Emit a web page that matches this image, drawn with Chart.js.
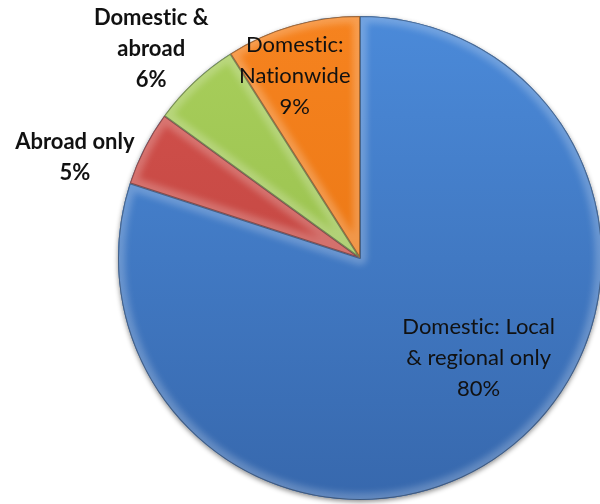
<!DOCTYPE html>
<html>
<head>
<meta charset="utf-8">
<script src="https://cdn.jsdelivr.net/npm/chart.js@4.4.1/dist/chart.umd.min.js"></script>
<style>
  html, body { margin: 0; padding: 0; background: #fff; }
  #wrap { width: 600px; height: 504px; position: relative; }
</style>
</head>
<body>
<div id="wrap"><canvas id="reachChart"></canvas></div>
<script>
// 业务覆盖范围占比
const labels = [
  ['Domestic: Local', '& regional only'],
  ['Abroad only'],
  ['Domestic &', 'abroad'],
  ['Domestic:', 'Nationwide']
];
const shares = [80, 5, 6, 9];

// 每块的渐变色（上浅下深）
const colorTop = ['#4b8ad9', '#d4524d', '#a9cf5c', '#f6831f'];
const colorBottom = ['#3768ad', '#b8403b', '#8fb845', '#e4700e'];

// 标签位置：角度(自顶部顺时针) + 半径比例，是否加粗
const labelAngle = [130, 289.5, 315, 340.3];
const labelRadius = [0.64, 1.25, 1.22, 0.80];
const labelBold = [false, true, true, false];

function sliceGradient(ctx) {
  const chart = ctx.chart;
  const area = chart.chartArea;
  if (!area) return colorTop[ctx.dataIndex];
  const g = chart.ctx.createLinearGradient(0, area.top, 0, area.bottom);
  g.addColorStop(0, colorTop[ctx.dataIndex]);
  g.addColorStop(1, colorBottom[ctx.dataIndex]);
  return g;
}

// 饼图底部阴影
const shadowPlugin = {
  id: 'pieShadow',
  beforeDatasetsDraw(chart) {
    const arc = chart.getDatasetMeta(0).data[0];
    if (!arc) return;
    const c = chart.ctx;
    c.save();
    c.beginPath();
    c.arc(arc.x, arc.y, arc.outerRadius, 0, Math.PI * 2);
    c.shadowColor = 'rgba(0,0,0,0.45)';
    c.shadowBlur = 5;
    c.shadowOffsetY = 2;
    c.fillStyle = '#3a6aad';
    c.fill();
    c.restore();
  }
};

// 斜面高光效果
const bevelPlugin = {
  id: 'bevel',
  afterDatasetsDraw(chart) {
    const c = chart.ctx;
    chart.getDatasetMeta(0).data.forEach(arc => {
      const p = new Path2D();
      p.moveTo(arc.x, arc.y);
      p.arc(arc.x, arc.y, arc.outerRadius, arc.startAngle, arc.endAngle);
      p.closePath();
      c.save();
      c.clip(p);
      c.lineJoin = 'round';
      c.strokeStyle = 'rgba(255,255,255,0.22)';
      c.lineWidth = 14;
      c.filter = 'blur(3px)';
      c.stroke(p);
      c.filter = 'none';
      c.strokeStyle = 'rgba(0,0,0,0.35)';
      c.lineWidth = 2;
      c.stroke(p);
      c.restore();
    });
  }
};

const labelPlugin = {
  id: 'sliceLabels',
  afterDraw(chart) {
    const c = chart.ctx;
    const meta = chart.getDatasetMeta(0);
    const total = shares.reduce((a, b) => a + b, 0);
    meta.data.forEach((arc, i) => {
      const ang = labelAngle[i] * Math.PI / 180;
      const r = arc.outerRadius * labelRadius[i];
      const cx = arc.x + Math.sin(ang) * r;
      const cy = arc.y - Math.cos(ang) * r;
      const lines = labels[i].concat([Math.round(shares[i] / total * 100) + '%']);
      const lh = 31;
      c.save();
      c.font = (labelBold[i] ? 'bold ' : '') + '22px Lato, "Open Sans", sans-serif';
      c.fillStyle = '#111';
      c.textAlign = 'center';
      c.textBaseline = 'middle';
      lines.forEach((t, k) => {
        // 插入零宽不连字符，避免 "ti" 连字
        const txt = t.replace(/ti/g, 't\u200Ci');
        c.fillText(txt, cx, cy + (k - (lines.length - 1) / 2) * lh);
      });
      c.restore();
    });
  }
};

new Chart(document.getElementById('reachChart'), {
  type: 'pie',
  data: {
    labels: labels.map(l => l.join(' ')),
    datasets: [{
      data: shares,
      backgroundColor: sliceGradient,
      borderWidth: 0,
      radius: 242,
      clip: false
    }]
  },
  options: {
    responsive: true,
    maintainAspectRatio: false,
    animation: false,
    layout: {
      padding: { left: 120, right: 0, top: 16, bottom: 4 }
    },
    plugins: {
      legend: { display: false },
      tooltip: { enabled: false }
    }
  },
  plugins: [shadowPlugin, bevelPlugin, labelPlugin]
});
</script>
</body>
</html>
